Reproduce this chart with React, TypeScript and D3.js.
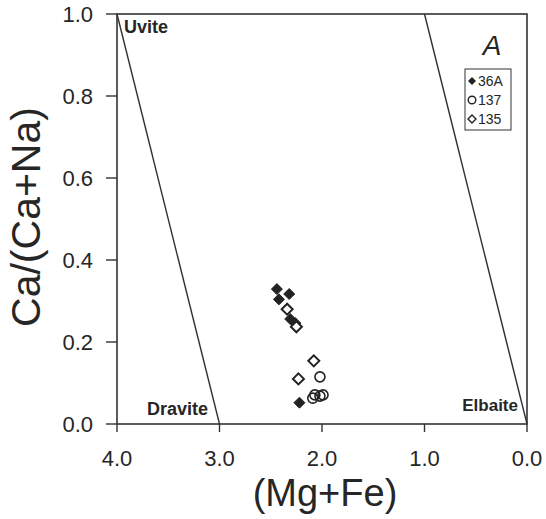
import React from "react";
import * as d3 from "d3";

const xTicks = [4.0, 3.0, 2.0, 1.0, 0.0];
const yTicks = [0.0, 0.2, 0.4, 0.6, 0.8, 1.0];

const s36A_x = [2.44, 2.32, 2.42, 2.31, 2.26, 2.22];
const s36A_y = [0.329, 0.317, 0.304, 0.256, 0.246, 0.052];
const s135_x = [2.34, 2.25, 2.08, 2.23];
const s135_y = [0.28, 0.237, 0.154, 0.11];
const s137_x = [2.02, 2.07, 2.02, 1.99, 2.09];
const s137_y = [0.115, 0.071, 0.068, 0.071, 0.063];

const boundaryLines = [
  { x1: 4.0, y1: 1.0, x2: 3.0, y2: 0.0 },
  { x1: 1.0, y1: 1.0, x2: 0.0, y2: 0.0 },
];

const W = 546, H = 519;
const L = 117, R = 527, T = 14, B = 424;

export default function App() {
  const x = d3.scaleLinear().domain([4, 0]).range([L, R]);
  const y = d3.scaleLinear().domain([0, 1]).range([B, T]);
  const col = "#333";
  const tc = "#262626";
  const font = "Liberation Sans, Arial, sans-serif";
  const diamond = (cx: number, cy: number, r = 5.5) =>
    `M${cx},${cy - r}L${cx + r},${cy}L${cx},${cy + r}L${cx - r},${cy}Z`;

  return (
    <svg width={W} height={H} style={{ position: "absolute", left: 0, top: 0, background: "#fff" }} fontFamily={font}>
      <rect x={L} y={T} width={R - L} height={B - T} fill="none" stroke={col} strokeWidth={1.6} />
      {boundaryLines.map((l, i) => (
        <line key={i} x1={x(l.x1)} y1={y(l.y1)} x2={x(l.x2)} y2={y(l.y2)} stroke={col} strokeWidth={1.4} />
      ))}
      {yTicks.map((t) => (
        <g key={"y" + t}>
          <line x1={L - 11} x2={L} y1={y(t)} y2={y(t)} stroke={col} strokeWidth={1.4} />
          <text x={L - 24} y={y(t)} dy="0.36em" textAnchor="end" fontSize={22} fill={tc}>{t.toFixed(1)}</text>
        </g>
      ))}
      {xTicks.map((t) => (
        <g key={"x" + t}>
          <line x1={x(t)} x2={x(t)} y1={B} y2={B + 8} stroke={col} strokeWidth={1.4} />
          <text x={x(t)} y={466} textAnchor="middle" fontSize={22} fill={tc}>{t.toFixed(1)}</text>
        </g>
      ))}
      <text x={325} y={506} textAnchor="middle" fontSize={38} fill={tc}>(Mg+Fe)</text>
      <text transform={`translate(40,217) rotate(-90)`} textAnchor="middle" fontSize={41} fill={tc}>Ca/(Ca+Na)</text>
      <text x={124} y={33} fontSize={18} fontWeight="bold" fill={tc}>Uvite</text>
      <text x={147} y={415} fontSize={18} fontWeight="bold" fill={tc}>Dravite</text>
      <text x={518} y={411} textAnchor="end" fontSize={17} fontWeight="bold" fill={tc}>Elbaite</text>
      <text x={492} y={55} textAnchor="middle" fontSize={28} fontStyle="italic" fill={tc}>A</text>
      {s36A_x.map((v, i) => (
        <path key={"a" + i} d={diamond(x(v), y(s36A_y[i]))} fill="#222" stroke="#222" strokeWidth={1} />
      ))}
      {s135_x.map((v, i) => (
        <path key={"b" + i} d={diamond(x(v), y(s135_y[i]))} fill="#fff" stroke="#222" strokeWidth={2} />
      ))}
      {s137_x.map((v, i) => (
        <circle key={"c" + i} cx={x(v)} cy={y(s137_y[i])} r={5} fill="none" stroke="#222" strokeWidth={1.6} />
      ))}
      <rect x={465} y={69} width={46} height={61} fill="#fff" stroke={col} strokeWidth={1} />
      <path d={diamond(472, 81, 4)} fill="#222" />
      <text x={478} y={81} dy="0.36em" fontSize={14} fill={tc}>36A</text>
      <circle cx={472} cy={100} r={3.8} fill="none" stroke="#222" strokeWidth={1.4} />
      <text x={478} y={100} dy="0.36em" fontSize={14} fill={tc}>137</text>
      <path d={diamond(472, 119, 4)} fill="#fff" stroke="#222" strokeWidth={1.4} />
      <text x={478} y={119} dy="0.36em" fontSize={14} fill={tc}>135</text>
    </svg>
  );
}
